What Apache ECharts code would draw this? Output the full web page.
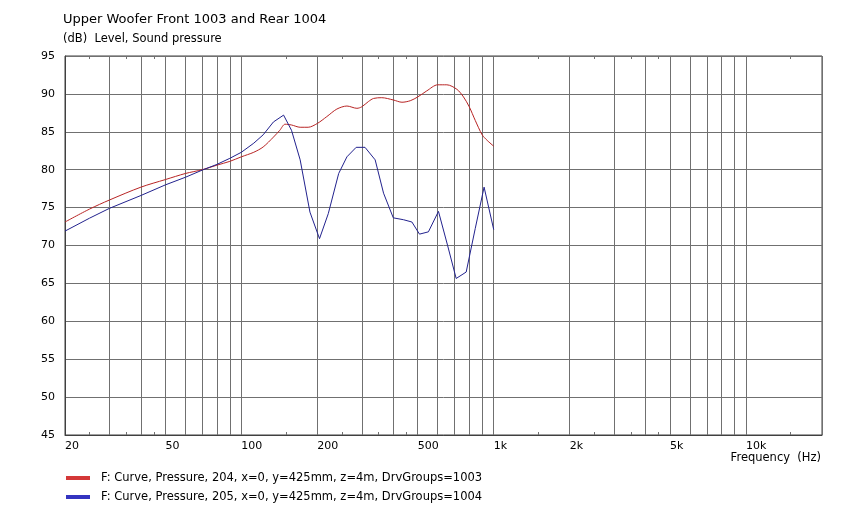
<!DOCTYPE html>
<html>
<head>
<meta charset="utf-8">
<script src="https://cdn.jsdelivr.net/npm/echarts@6/dist/echarts.min.js"></script>
<style>
html,body{margin:0;padding:0;background:#fff;}
#chart{width:844px;height:530px;}
</style>
</head>
<body>
<div id="chart"></div>
<script>
// ---- data ----
const frontFreq  = [20, 25, 30, 40, 50, 60, 70, 80, 90, 100, 112, 122, 134, 142, 149, 158, 171, 184, 200, 218, 239, 262, 287, 300, 319, 334, 360, 400, 433, 467, 500, 543, 600, 652, 715, 759, 800, 845, 900, 940, 1000];
const frontLevel = [73.1, 74.8, 76.0, 77.7, 78.7, 79.5, 80.0, 80.6, 81.1, 81.7, 82.3, 83.0, 84.3, 85.2, 86.0, 85.9, 85.6, 85.6, 86.1, 87.0, 88.0, 88.4, 88.1, 88.3, 89.0, 89.4, 89.5, 89.2, 88.9, 89.1, 89.6, 90.4, 91.2, 91.2, 90.6, 89.6, 88.3, 86.5, 84.6, 83.9, 83.1];

const rearFreq  = [20, 25, 30, 40, 50, 60, 70, 80, 90, 100, 112, 122, 134, 147, 158, 171, 187, 204, 221, 243, 262, 285, 309, 339, 366, 400, 439, 474, 508, 551, 604, 656, 710, 778, 845, 916, 1000];
const rearLevel = [71.9, 73.6, 74.9, 76.6, 78.0, 79.0, 79.95, 80.7, 81.5, 82.3, 83.5, 84.6, 86.3, 87.2, 85.2, 81.3, 74.4, 70.9, 74.2, 79.5, 81.7, 82.95, 82.95, 81.3, 76.9, 73.65, 73.4, 73.1, 71.5, 71.8, 74.5, 70.05, 65.65, 66.5, 72.25, 77.7, 72.1];

const gridFreqs  = [20, 30, 40, 50, 60, 70, 80, 90, 100, 200, 300, 400, 500, 600, 700, 800, 900, 1000, 2000, 3000, 4000, 5000, 6000, 7000, 8000, 9000, 10000, 20000];
const minorFreqs = [25, 35, 45, 150, 250, 350, 450, 1500, 2500, 3500, 4500, 15000];
const xTickLabels = [20, 50, 100, 200, 500, 1000, 2000, 5000, 10000];
const yTicks = [45, 50, 55, 60, 65, 70, 75, 80, 85, 90, 95];

const seriesNames = [
  'F: Curve, Pressure, 204, x=0, y=425mm, z=4m, DrvGroups=1003',
  'F: Curve, Pressure, 205, x=0, y=425mm, z=4m, DrvGroups=1004'
];
const titleText = 'Upper Woofer Front 1003 and Rear 1004';
const subText = '(dB)  Level, Sound pressure';
const xName = 'Frequency  (Hz)';

// ---- chart ----
const FONT = '"DejaVu Sans", Verdana, sans-serif';
const zip = (a, b) => a.map((v, i) => [v, b[i]]);
const fmtHz = v => v >= 1000 ? (v / 1000) + 'k' : String(v);

const baseX = {
  type: 'log', logBase: 10, min: 20, max: 20000, gridIndex: 0
};

const chart = echarts.init(document.getElementById('chart'), null, {renderer: 'canvas'});
chart.setOption({
  animation: false,
  backgroundColor: '#ffffff',
  textStyle: {fontFamily: FONT},
  title: [
    {text: titleText, left: 63, top: 13, padding: 0,
     textStyle: {fontFamily: FONT, fontSize: 13, fontWeight: 'normal', color: '#000'}},
    {text: subText, left: 63, top: 33, padding: 0,
     textStyle: {fontFamily: FONT, fontSize: 11.5, fontWeight: 'normal', color: '#000'}},
    {text: xName, right: 23, top: 452, padding: 0,
     textStyle: {fontFamily: FONT, fontSize: 11.5, fontWeight: 'normal', color: '#000'}}
  ],
  grid: {left: 65, top: 56, width: 757, height: 379, show: true,
         borderColor: '#404040', borderWidth: 1, backgroundColor: 'transparent', containLabel: false},
  legend: {
    orient: 'vertical', left: 66, top: 472, padding: 0,
    itemWidth: 24, itemHeight: 4, itemGap: 7, icon: 'rect',
    textStyle: {fontFamily: FONT, fontSize: 11.5, color: '#000', padding: [0, 0, 0, 6]},
    data: [
      {name: seriesNames[0], itemStyle: {color: '#d43838'}},
      {name: seriesNames[1], itemStyle: {color: '#3434c0'}}
    ]
  },
  xAxis: [
    Object.assign({}, baseX, {
      position: 'bottom',
      axisLine: {show: true, lineStyle: {color: '#404040', width: 1}},
      axisTick: {show: false, customValues: gridFreqs},
      splitLine: {show: true, lineStyle: {color: '#707070', width: 1}},
      axisLabel: {show: true, customValues: xTickLabels, formatter: fmtHz,
                  align: 'left', margin: 6, fontFamily: FONT, fontSize: 11, color: '#000'}
    }),
    Object.assign({}, baseX, {
      position: 'bottom',
      axisLine: {show: false},
      axisTick: {show: true, inside: true, length: 3, customValues: minorFreqs,
                 lineStyle: {color: '#707070'}},
      splitLine: {show: false},
      axisLabel: {show: false}
    }),
    Object.assign({}, baseX, {
      position: 'top',
      axisLine: {show: false},
      axisTick: {show: true, inside: true, length: 3, customValues: minorFreqs,
                 lineStyle: {color: '#707070'}},
      splitLine: {show: false},
      axisLabel: {show: false}
    })
  ],
  yAxis: {
    type: 'value', min: 45, max: 95, interval: 5,
    axisLine: {show: true, lineStyle: {color: '#404040'}},
    axisTick: {show: false, customValues: yTicks},
    splitLine: {show: true, lineStyle: {color: '#707070', width: 1}},
    axisLabel: {margin: 10, fontFamily: FONT, fontSize: 11, color: '#000'}
  },
  series: [
    {name: seriesNames[0], type: 'line', xAxisIndex: 0, data: zip(frontFreq, frontLevel),
     showSymbol: false, smooth: 0.3, color: '#b82424',
     lineStyle: {color: '#b82424', width: 1}, z: 3},
    {name: seriesNames[1], type: 'line', xAxisIndex: 0, data: zip(rearFreq, rearLevel),
     showSymbol: false, smooth: false, color: '#22228e',
     lineStyle: {color: '#22228e', width: 1}, z: 4}
  ]
});
</script>
</body>
</html>
